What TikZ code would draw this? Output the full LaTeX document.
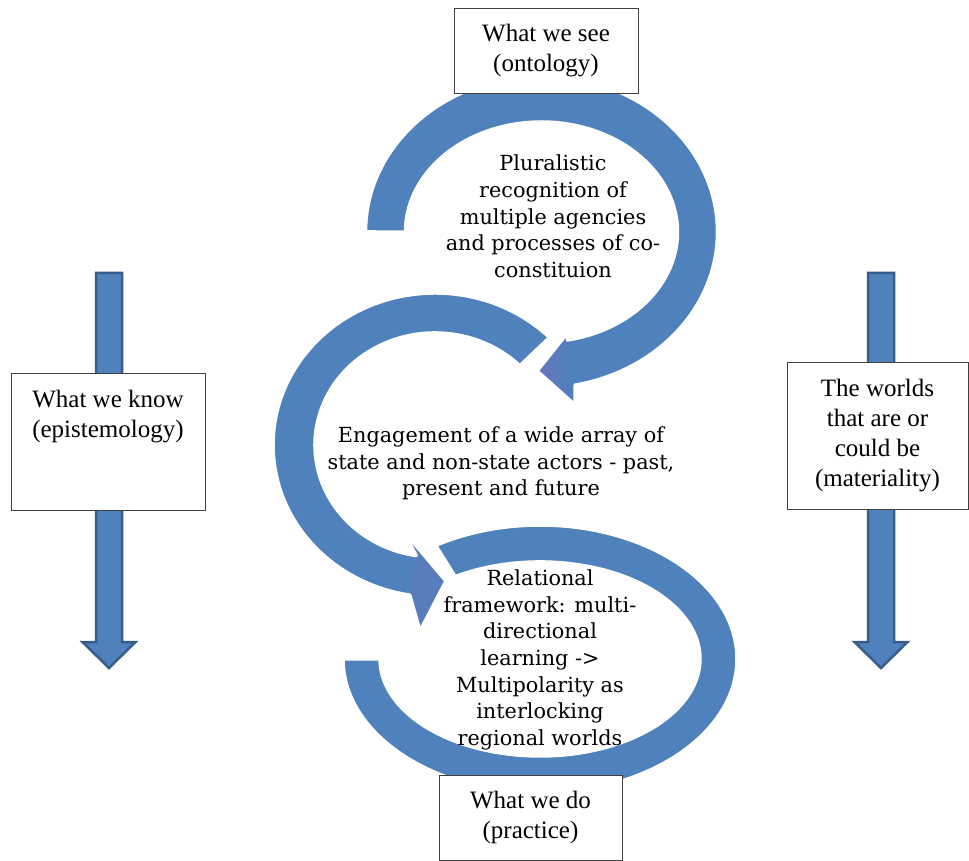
\documentclass[tikz,border=0pt]{standalone}
\usepackage{fontspec}
\setmainfont{Liberation Serif}
\newfontfamily\arcfont{DejaVu Serif}
\usetikzlibrary{arrows.meta,calc,positioning}
\definecolor{arcblue}{RGB}{79,129,189}
\definecolor{arcedge}{RGB}{56,93,138}
\definecolor{arcpurple}{RGB}{100,118,190}
\definecolor{boxline}{RGB}{64,64,64}

\tikzset{
  band/.style={fill=arcblue,preaction={draw=black!18,line width=6.5pt,line join=round}},
  bandline/.style={draw=white,line width=3.5pt,line join=round},
  framebox/.style={draw=boxline,fill=white,line width=0.9pt,inner sep=0pt,
    font=\fontsize{25}{30}\selectfont,align=center},
  arctext/.style={font=\arcfont\fontsize{20.8}{26.7}\selectfont,align=center},
  downarrow/.style={fill=arcblue,draw=arcedge,line width=2.5pt,line join=miter}
}

\begin{document}
\begin{tikzpicture}[x=1pt,y=1pt]
  \path[fill=white,use as bounding box] (0,0) rectangle (969,860);

  % side arrows behind the boxes
  \foreach \ax in {109,881}
    \draw[downarrow] (\ax-13,587) -- (\ax+13,587) -- (\ax+13,218) -- (\ax+26.5,218)
      -- (\ax,192) -- (\ax-26.5,218) -- (\ax-13,218) -- cycle;

  \node[framebox,minimum width=194pt,minimum height=137pt] (know) at (108,418.5)
    {\parbox[c][137pt][t]{194pt}{\vspace*{17pt}\centering What we know\\(epistemology)}};
  \node[framebox,minimum width=181pt,minimum height=147pt] (worlds) at (877.5,424)
    {The worlds\\that are or\\could be\\(materiality)};

  % lower loop
  \path[save path=\lowarc] (343,201) arc[start angle=180,end angle=482,x radius=197,y radius=134]
    -- (455.2,283.3) arc[start angle=482,end angle=180,x radius=160,y radius=97] -- cycle;
  \path[band,use path=\lowarc];
  \path[bandline,use path=\lowarc];

  % middle loop with its head
  \path[save path=\midarc] (549.6,522.5) arc[start angle=45,end angle=261,x radius=162,y radius=152]
    -- (420,229) -- (446,279) -- (402,331)
    -- (416.2,304.4) arc[start angle=261,end angle=45,x radius=120,y radius=112] -- cycle;
  \path[band,use path=\midarc];
  \shade[left color=arcblue!40!arcpurple,right color=arcblue!70!arcpurple]
    (409.7,264.9) -- (420,229) -- (446,279) -- (402,331) -- (416.2,304.4) -- cycle;
  \path[bandline,use path=\midarc];

  % upper loop with its head
  \path[save path=\toparc] (365.5,628) arc[start angle=180,end angle=-79,x radius=176,y radius=156]
    -- (575,455) -- (537,489) -- (569,529)
    -- (567.4,520) arc[start angle=-79,end angle=180,x radius=136,y radius=110] -- cycle;
  \path[band,use path=\toparc];
  \shade[left color=arcpurple,right color=arcblue]
    (575.1,474.9) -- (575,455) -- (537,489) -- (569,529) -- (567.4,520) -- cycle;
  \path[bandline,use path=\toparc];

  \node[framebox,minimum width=184pt,minimum height=85pt] (see) at (546,809.5) {What we see\\(ontology)};
  \node[framebox,minimum width=183pt,minimum height=85pt] (do) at (530.5,42.5) {What we do\\(practice)};

  \node[arctext] (plural) at (553,643.5)
    {Pluralistic\\recognition of\\multiple agencies\\and processes of co-\\constituion};
  \node[arctext] (engage) at (501,396.5)
    {Engagement of a wide array of\\state and non-state actors - past,\\present and future};
  \node[arctext] (relate) at (540,200)
    {Relational\\framework: multi-\\directional\\learning ->\\Multipolarity as\\interlocking\\regional worlds};
\end{tikzpicture}
\end{document}
